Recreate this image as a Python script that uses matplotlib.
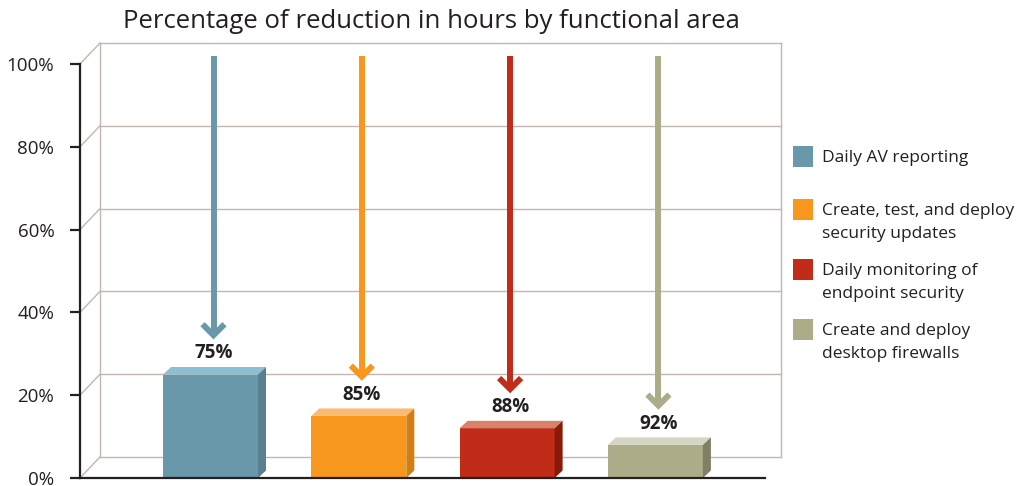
import matplotlib
matplotlib.use("Agg")
import matplotlib.pyplot as plt
from matplotlib.patches import Rectangle, Polygon

plt.rcParams["font.family"] = ["Open Sans", "DejaVu Sans"]

# data
areas = [
    "Daily AV reporting",
    "Create, test, and deploy\nsecurity updates",
    "Daily monitoring of\nendpoint security",
    "Create and deploy\ndesktop firewalls",
]
reduction = [75, 85, 88, 92]            # percent reduction in hours
remaining = [100 - r for r in reduction]  # bar height = hours left
y_ticks = [0, 20, 40, 60, 80, 100]

front = ["#6a98ab", "#f7971e", "#c12c18", "#adac88"]
top = ["#8bbfd5", "#f9bb73", "#d9826a", "#d6d5c3"]
side = ["#5a7f8e", "#d27e12", "#8a1a08", "#7f7f63"]
GRID = "#c2b7af"
INK = "#231f20"

W, H = 1016, 486
fig = plt.figure(figsize=(W / 100, H / 100), dpi=100)

# front plane of the plot area in pixels (y measured from top)
L, R, B, T = 80, 765, 478, 64
ax = fig.add_axes([L / W, (H - B) / H, (R - L) / W, (B - T) / H])
x0, x1 = -0.88, 3.739
ax.set_xlim(x0, x1)
ax.set_ylim(0, 100)
ppx = (R - L) / (x1 - x0)   # pixels per category unit
ppy = (B - T) / 100.0       # pixels per percent


def dx(px):
    return px / ppx


def dy(px):
    return px / ppy


# back wall offset and bar depth
bdx, bdy = dx(20), dy(21)
back_right = x0 + dx(781 - L)
ddx, ddy = dx(8), dy(7.5)

for lvl in y_ticks:
    ax.plot([x0 + bdx, back_right], [lvl + bdy, lvl + bdy], color=GRID, lw=1.0, clip_on=False, zorder=1)
    ax.plot([x0, x0 + bdx], [lvl, lvl + bdy], color=GRID, lw=1.0, clip_on=False, zorder=1)
ax.plot([x0 + bdx, x0 + bdx], [bdy, 100 + bdy], color=GRID, lw=1.0, clip_on=False, zorder=1)
ax.plot([back_right, back_right], [bdy, 100 + bdy], color=GRID, lw=1.0, clip_on=False, zorder=1)

bw = dx(95)
for i, (v, r) in enumerate(zip(remaining, reduction)):
    xl, xr = i - bw / 2, i + bw / 2
    ax.add_patch(Rectangle((xl, 0), bw, v, facecolor=front[i], edgecolor="none", zorder=3))
    ax.add_patch(Polygon([(xl, v), (xr, v), (xr + ddx, v + ddy), (xl + ddx, v + ddy)],
                         closed=True, facecolor=top[i], edgecolor="none", zorder=3))
    ax.add_patch(Polygon([(xr, 0), (xr + ddx, ddy), (xr + ddx, v + ddy), (xr, v)],
                         closed=True, facecolor=side[i], edgecolor="none", zorder=3))

    cx = i + dx(3)
    tip = v + dy(35)
    vert = tip + dy(4.3)
    ax.plot([cx, cx], [102, vert], color=front[i], lw=4.3, solid_capstyle="butt",
            clip_on=False, zorder=4)
    ax.plot([cx - dx(11), cx, cx + dx(11)], [vert + dy(11), vert, vert + dy(11)],
            color=front[i], lw=4.3, solid_capstyle="butt", solid_joinstyle="miter",
            clip_on=False, zorder=4)
    ax.text(cx, v + dy(21), "{}%".format(r), ha="center", va="center",
            fontsize=13.5, fontweight="bold", color=INK, zorder=5)

for s in ("top", "right"):
    ax.spines[s].set_visible(False)
for s in ("left", "bottom"):
    ax.spines[s].set_linewidth(1.6)
    ax.spines[s].set_color(INK)
    ax.spines[s].set_zorder(6)
ax.set_xticks([])
ax.set_yticks(y_ticks)
ax.set_yticklabels(["{}%".format(t) for t in y_ticks], fontsize=13.5, color=INK)
ax.tick_params(axis="y", length=7.5, width=1.6, color=INK, pad=11)
ax.patch.set_visible(False)

fig.text(431 / W, 1 - 22 / H, "Percentage of reduction in hours by functional area",
         ha="center", va="center", fontsize=18.5, color=INK)

# legend
leg_y = [156.5, 209.5, 269.5, 329.5]
for i, (label, yc) in enumerate(zip(areas, leg_y)):
    fig.add_artist(Rectangle((793 / W, 1 - (yc + 10.5) / H), 20 / W, 21 / H,
                             transform=fig.transFigure, facecolor=front[i], edgecolor="none"))
    n = label.count("\n")
    fig.text(822 / W, 1 - (yc + 1 + n * 11.75) / H, label, ha="left", va="center",
             fontsize=12.5, color=INK, linespacing=1.55)

fig.savefig("out.png", dpi=100)
